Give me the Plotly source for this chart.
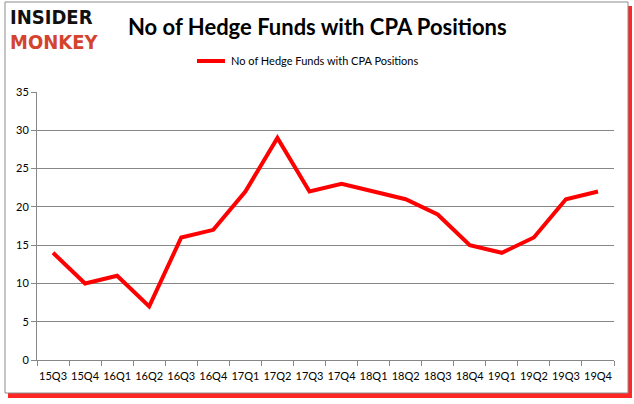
import plotly.graph_objects as go

quarters = ["15Q3", "15Q4", "16Q1", "16Q2", "16Q3", "16Q4", "17Q1", "17Q2", "17Q3",
            "17Q4", "18Q1", "18Q2", "18Q3", "18Q4", "19Q1", "19Q2", "19Q3", "19Q4"]
funds = [14, 10, 11, 7, 16, 17, 22, 29, 22, 23, 22, 21, 19, 15, 14, 16, 21, 22]
series_name = "No of Hedge Funds with CPA Positions"

W, H = 634, 404
L, R, T, B = 37, 20, 92, 44
pw, ph = W - L - R, H - T - B


def px(x):
    return (x - L) / pw


def py(y):
    return (H - B - y) / ph


fig = go.Figure()
fig.add_trace(go.Scatter(
    x=quarters, y=funds, mode="lines", name=series_name,
    line=dict(color="#ff0000", width=4), showlegend=False,
))

shapes = [
    # red shadow
    dict(type="rect", xref="paper", yref="paper", x0=px(8), x1=px(632), y0=py(6), y1=py(398),
         line=dict(width=0), fillcolor="rgba(255,0,0,0.85)", layer="below"),
    # frame
    dict(type="rect", xref="paper", yref="paper", x0=px(5), x1=px(628), y0=py(2), y1=py(393),
         line=dict(color="#8c8c8c", width=1), fillcolor="white", layer="below"),
    # legend key
    dict(type="line", xref="paper", yref="paper", x0=px(197), x1=px(225), y0=py(61), y1=py(61),
         line=dict(color="#ff0000", width=4)),
]

annotations = [
    dict(text="<b>INSIDER</b>", x=px(8), y=py(17), xref="paper", yref="paper",
         xanchor="left", yanchor="middle", showarrow=False,
         font=dict(family="DejaVu Sans Condensed", size=20, color="#111111")),
    dict(text="<b>MONKEY</b>", x=px(8), y=py(42), xref="paper", yref="paper",
         xanchor="left", yanchor="middle", showarrow=False,
         font=dict(family="DejaVu Sans Condensed", size=20, color="#d4432e")),
    dict(text="<b>No of Hedge Funds with CPA Positions</b>", x=px(317), y=py(26),
         xref="paper", yref="paper", xanchor="center", yanchor="middle", showarrow=False,
         font=dict(family="Lato", size=22, color="#000000")),
    dict(text=series_name, x=px(229), y=py(61), xref="paper", yref="paper",
         xanchor="left", yanchor="middle", showarrow=False,
         font=dict(family="Lato", size=11, color="#000000")),
]

fig.update_layout(
    width=W, height=H,
    margin=dict(l=L, r=R, t=T, b=B, autoexpand=False),
    paper_bgcolor="white", plot_bgcolor="white",
    shapes=shapes, annotations=annotations,
    showlegend=False,
    xaxis=dict(
        type="category", showgrid=False, ticks="outside", tickson="boundaries",
        ticklen=5, tickcolor="#878787", showline=True, linecolor="#878787",
        tickfont=dict(family="Lato", size=11, color="#000000"), tickangle=0,
        ticklabelstandoff=6,
        range=[-0.5, len(quarters) - 0.5], automargin=False,
    ),
    yaxis=dict(
        range=[0, 35], dtick=5, showgrid=True, gridcolor="#878787", gridwidth=1,
        showline=True, linecolor="#878787", ticks="outside", ticklen=5,
        tickcolor="#878787", zeroline=False, automargin=False,
        tickfont=dict(family="Lato", size=11, color="#000000"),
    ),
)

fig.write_html("out.html", config={"displayModeBar": False},
               post_script="document.body.style.margin='0';")
